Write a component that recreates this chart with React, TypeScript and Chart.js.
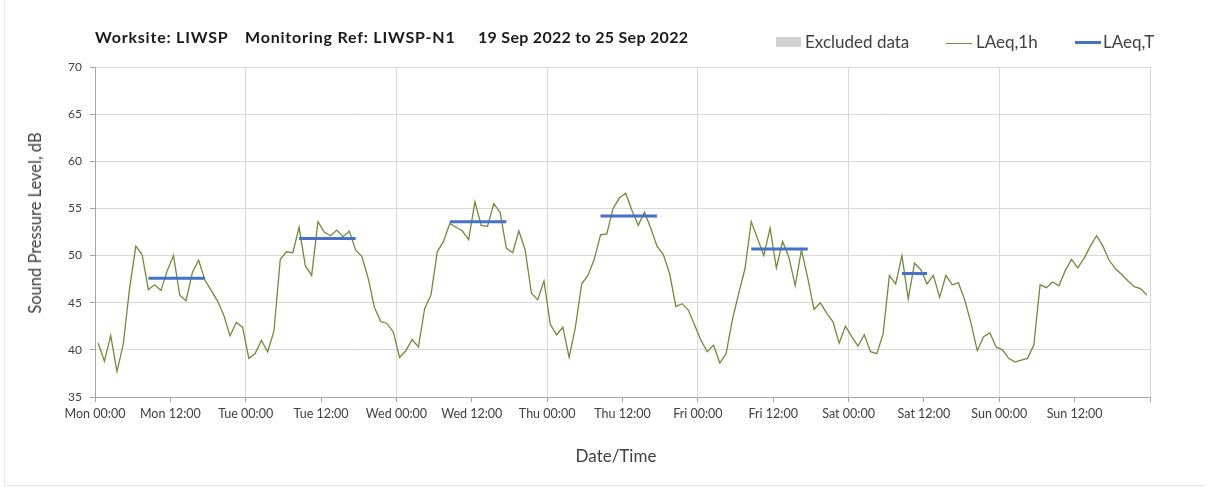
import React, { useEffect, useRef } from "react";
import { Chart, registerables } from "chart.js";

Chart.register(...registerables);

// Hourly LAeq,1h values, Mon 00:00 .. Sun 23:00 (168 hours)
const laeq1h: number[] = [
  // Mon
  40.7, 38.8, 41.5, 37.7, 40.6, 46.5, 51.0, 50.1, 46.4, 46.9, 46.3, 48.4,
  50.0, 45.8, 45.2, 48.2, 49.5, 47.4, 46.3, 45.2, 43.7, 41.5, 42.9, 42.4,
  // Tue
  39.1, 39.6, 41.0, 39.8, 42.0, 49.6, 50.4, 50.3, 53.0, 48.9, 47.9, 53.6,
  52.5, 52.1, 52.7, 52.0, 52.6, 50.6, 49.9, 47.6, 44.5, 43.0, 42.8, 41.9,
  // Wed
  39.2, 39.9, 41.1, 40.3, 44.4, 45.8, 50.4, 51.5, 53.4, 53.0, 52.6, 51.7,
  55.7, 53.2, 53.1, 55.5, 54.6, 50.8, 50.3, 52.6, 50.6, 46.0, 45.3, 47.3,
  // Thu
  42.7, 41.6, 42.4, 39.2, 42.4, 47.0, 47.9, 49.6, 52.2, 52.3, 55.0, 56.1,
  56.6, 54.8, 53.2, 54.6, 52.9, 51.0, 50.1, 48.1, 44.6, 44.9, 44.2, 42.6,
  // Fri
  41.0, 39.8, 40.5, 38.6, 39.6, 43.2, 46.0, 48.6, 53.6, 51.8, 50.0, 52.9,
  48.7, 51.5, 49.8, 46.8, 50.6, 47.6, 44.3, 45.0, 43.9, 43.0, 40.7, 42.5,
  // Sat
  41.4, 40.4, 41.6, 39.8, 39.6, 41.7, 47.9, 47.0, 50.0, 45.4, 49.2, 48.5,
  47.0, 47.9, 45.6, 47.9, 46.9, 47.1, 45.3, 42.8, 39.9, 41.4, 41.8, 40.3,
  // Sun
  40.0, 39.1, 38.7, 38.9, 39.1, 40.5, 46.9, 46.6, 47.2, 46.8, 48.4, 49.6,
  48.7, 49.7, 51.0, 52.1, 51.0, 49.5, 48.6, 48.0, 47.3, 46.7, 46.5, 45.8,
];

// LAeq,T periods: [start hour index, end hour index, value]
const periodStart: number[] = [8, 32, 56, 80, 104, 128];
const periodEnd: number[] = [17, 41, 65, 89, 113, 132];
const periodValue: number[] = [47.6, 51.8, 53.6, 54.2, 50.7, 48.1];

const dayNames: string[] = ["Mon", "Tue", "Wed", "Thu", "Fri", "Sat", "Sun"];
const yTicks: number[] = [35, 40, 45, 50, 55, 60, 65, 70];

const FONT = "Lato, 'Open Sans', sans-serif";

export default function App() {
  const ref = useRef<HTMLCanvasElement | null>(null);

  useEffect(() => {
    const canvas = ref.current;
    if (!canvas) return;

    const lineData = laeq1h.map((v, i) => ({ x: i + 0.5, y: v }));
    const tData: any[] = [];
    periodStart.forEach((s, i) => {
      tData.push({ x: s + 0.5, y: periodValue[i] });
      tData.push({ x: periodEnd[i] + 0.5, y: periodValue[i] });
      tData.push({ x: periodEnd[i] + 0.5, y: null });
    });

    const chart = new Chart(canvas, {
      type: "line",
      data: {
        datasets: [
          {
            label: "LAeq,T",
            data: tData,
            borderColor: "#4472c4",
            borderWidth: 3,
            pointRadius: 0,
            spanGaps: false,
            tension: 0,
          },
          {
            label: "LAeq,1h",
            data: lineData,
            borderColor: "#71893f",
            borderWidth: 1.3,
            pointRadius: 0,
            tension: 0,
          },
        ],
      },
      options: {
        animation: false,
        responsive: false,
        maintainAspectRatio: false,
        layout: { padding: { top: 67, right: 58, bottom: 0, left: 0 } },
        plugins: {
          legend: { display: false },
          title: { display: false },
          tooltip: { enabled: false },
        },
        scales: {
          x: {
            type: "linear",
            min: 0,
            max: 168,
            afterFit: (s: any) => {
              s.height = 91;
            },
            afterBuildTicks: (s: any) => {
              const t: any[] = [];
              for (let v = 0; v <= 168; v += 12) t.push({ value: v });
              s.ticks = t;
            },
            ticks: {
              autoSkip: false,
              maxRotation: 0,
              padding: 4,
              color: "#404040",
              font: { family: FONT, size: 12.5 },
              callback: (v: any) => {
                const n = Number(v);
                if (n >= 168) return "";
                const d = Math.floor(n / 24);
                const h = n % 24;
                return `${dayNames[d]} ${h === 0 ? "00" : "12"}:00`;
              },
            },
            grid: {
              color: (ctx: any) =>
                ctx.tick && ctx.tick.value % 24 === 0 ? "#d9d9d9" : "rgba(0,0,0,0)",
              tickColor: "#a6a6a6",
              tickLength: 5,
            },
            border: { color: "#a6a6a6", width: 1 },
            title: { display: false },
          },
          y: {
            min: 35,
            max: 70,
            afterFit: (s: any) => {
              s.width = 95;
            },
            afterBuildTicks: (s: any) => {
              s.ticks = yTicks.map((v) => ({ value: v }));
            },
            ticks: {
              padding: 8,
              color: "#404040",
              font: { family: FONT, size: 12 },
            },
            grid: {
              color: "#d9d9d9",
              tickColor: "#a6a6a6",
              tickLength: 5,
            },
            border: { color: "#a6a6a6", width: 1 },
            title: { display: false },
          },
        },
      },
    });

    return () => chart.destroy();
  }, []);

  const titleStyle: React.CSSProperties = {
    position: "absolute",
    top: 27,
    fontFamily: FONT,
    fontWeight: 700,
    fontSize: 16,
    color: "#1a1a1a",
    whiteSpace: "nowrap",
    lineHeight: "20px",
  };
  const legText: React.CSSProperties = {
    position: "absolute",
    top: 32,
    fontFamily: FONT,
    fontSize: 17,
    color: "#404040",
    whiteSpace: "nowrap",
    lineHeight: "20px",
  };

  return (
    <div
      style={{
        position: "fixed",
        left: 0,
        top: 0,
        width: 1208,
        height: 488,
        background: "#ffffff",
        overflow: "hidden",
      }}
    >
      <div
        style={{
          position: "absolute",
          left: 4,
          top: 0,
          width: 1200,
          height: 486,
          borderLeft: "1px solid #e8e8e8",
          borderBottom: "1px solid #e8e8e8",
          boxSizing: "border-box",
        }}
      />
      <canvas ref={ref} width={1208} height={488} style={{ position: "absolute", left: 0, top: 0 }} />
      <div style={{ ...titleStyle, left: 95, letterSpacing: "0.8px" }}>Worksite: LIWSP</div>
      <div style={{ ...titleStyle, left: 245, letterSpacing: "0.8px" }}>Monitoring Ref: LIWSP-N1</div>
      <div style={{ ...titleStyle, left: 478, letterSpacing: "0.3px" }}>19 Sep 2022 to 25 Sep 2022</div>

      <div style={{ position: "absolute", left: 776, top: 37, width: 25, height: 10, background: "#d0d0d0" }} />
      <div style={{ ...legText, left: 805 }}>Excluded data</div>
      <div style={{ position: "absolute", left: 946, top: 43, width: 26, height: 1, background: "#71893f" }} />
      <div style={{ ...legText, left: 976 }}>LAeq,1h</div>
      <div style={{ position: "absolute", left: 1075, top: 41, width: 26, height: 3, background: "#4472c4" }} />
      <div style={{ ...legText, left: 1103 }}>LAeq,T</div>

      <div
        style={{
          position: "absolute",
          left: 35,
          top: 223,
          transform: "translate(-50%, -50%) rotate(-90deg)",
          fontFamily: FONT,
          fontSize: 16.5,
          color: "#404040",
          whiteSpace: "nowrap",
          lineHeight: "20px",
        }}
      >
        Sound Pressure Level, dB
      </div>
      <div
        style={{
          position: "absolute",
          left: 616,
          top: 456,
          transform: "translate(-50%, -50%)",
          fontFamily: FONT,
          fontSize: 17,
          color: "#404040",
          whiteSpace: "nowrap",
          lineHeight: "20px",
        }}
      >
        Date/Time
      </div>
    </div>
  );
}
